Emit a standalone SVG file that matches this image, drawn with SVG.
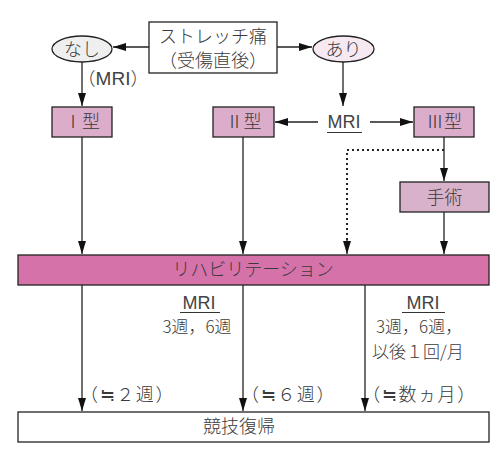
<svg xmlns="http://www.w3.org/2000/svg" width="504" height="464" viewBox="0 0 504 464">
<defs>
<marker id="ah" markerWidth="14" markerHeight="10" refX="13" refY="5" orient="auto" markerUnits="userSpaceOnUse">
<path d="M0,1 L13,5 L0,9 Z" fill="#111"/>
</marker>
<style>
text{font-family:"Noto Sans CJK JP","Noto Sans",sans-serif;fill:#3a3a3a;font-size:18px;font-weight:300}
.m{text-anchor:middle}
.lat{font-family:"Liberation Sans",Arial,sans-serif;font-weight:400;fill:#444}
.sm{font-size:17px}
.par{letter-spacing:1.6px}
.box{stroke:#222;stroke-width:1.3}
.ln{stroke:#333;stroke-width:1.2;fill:none}
.arr{stroke:#222;stroke-width:1.3;fill:none;marker-end:url(#ah)}
.dot{stroke:#222;stroke-width:2;fill:none;stroke-dasharray:2 3}
.type{fill:#dcaccb}
</style>
</defs>
<rect width="504" height="464" fill="#fff"/>
<g id="connectors">
<line class="arr" x1="149" y1="47" x2="113" y2="47"/>
<line class="arr" x1="277" y1="47" x2="312" y2="47"/>
<line class="arr" x1="82" y1="62" x2="82" y2="106"/>
<line class="arr" x1="343" y1="62" x2="343" y2="106"/>
<line class="arr" x1="318" y1="122" x2="275" y2="122"/>
<line class="arr" x1="370" y1="122" x2="413" y2="122"/>
<line class="arr" x1="82" y1="137" x2="82" y2="254"/>
<line class="arr" x1="243" y1="137" x2="243" y2="254"/>
<line class="arr" x1="444" y1="137" x2="444" y2="181"/>
<line class="arr" x1="444" y1="212" x2="444" y2="254"/>
<polyline class="dot" points="444,150 347,150 347,240"/>
<line class="arr" x1="347" y1="240" x2="347" y2="254"/>
<line class="arr" x1="82" y1="285" x2="82" y2="411"/>
<line class="arr" x1="243" y1="285" x2="243" y2="411"/>
<line class="arr" x1="365" y1="285" x2="365" y2="411"/>
</g>
<g id="stretch">
<rect class="box" x="149" y="22" width="128" height="51" fill="#fff"/>
<text class="m" x="213" y="43">ストレッチ痛</text>
<text class="m" x="213" y="67">（受傷直後）</text>
</g>
<g id="nashi">
<ellipse class="box" cx="82" cy="49" rx="30" ry="13" fill="#efefef"/>
<text class="m" x="82" y="56">なし</text>
</g>
<g id="ari">
<ellipse class="box" cx="343.5" cy="49" rx="30.5" ry="13" fill="#f6e9f2"/>
<text class="m" x="343.5" y="56">あり</text>
</g>
<g id="mri-label-1">
<text class="m" x="113" y="85">（<tspan class="lat" font-size="19">MRI</tspan>）</text>
</g>
<g id="mri-top">
<text class="m lat" x="344" y="128">MRI</text>
<line class="ln" x1="327" y1="132.5" x2="362" y2="132.5"/>
</g>
<g id="type1">
<rect class="box type" x="52" y="107" width="60" height="30"/>
<text class="m" x="82" y="128">Ⅰ型</text>
</g>
<g id="type2">
<rect class="box type" x="213" y="107" width="61" height="30"/>
<text class="m" x="243.5" y="128">Ⅱ型</text>
</g>
<g id="type3">
<rect class="box type" x="414" y="107" width="60" height="30"/>
<text class="m" x="444" y="128">Ⅲ型</text>
</g>
<g id="surgery">
<rect class="box" x="400" y="182" width="89" height="30" fill="#d8b2ca"/>
<text class="m" x="444.5" y="204">手術</text>
</g>
<g id="rehab">
<rect class="box" x="18" y="255" width="471" height="30" fill="#d672aa"/>
<text class="m" x="253" y="276">リハビリテーション</text>
</g>
<g id="mri-mid">
<text class="m lat" x="199" y="309">MRI</text>
<line class="ln" x1="180" y1="312.5" x2="220" y2="312.5"/>
<text class="m sm" x="197" y="333">3週，6週</text>
</g>
<g id="mri-right">
<text class="m lat" x="423" y="309">MRI</text>
<line class="ln" x1="402" y1="312.5" x2="445" y2="312.5"/>
<text class="sm" x="376" y="333">3週，6週，</text>
<text class="sm" x="372" y="358">以後１回/月</text>
</g>
<g id="durations">
<text class="m par" x="127.5" y="401">（≒２週）</text>
<text class="m par" x="288.5" y="401">（≒６週）</text>
<text class="m par" x="419.5" y="401">（≒数ヵ月）</text>
</g>
<g id="return">
<rect class="box" x="18" y="412" width="471" height="30" fill="#fff"/>
<text class="m" x="239" y="433">競技復帰</text>
</g>
</svg>
